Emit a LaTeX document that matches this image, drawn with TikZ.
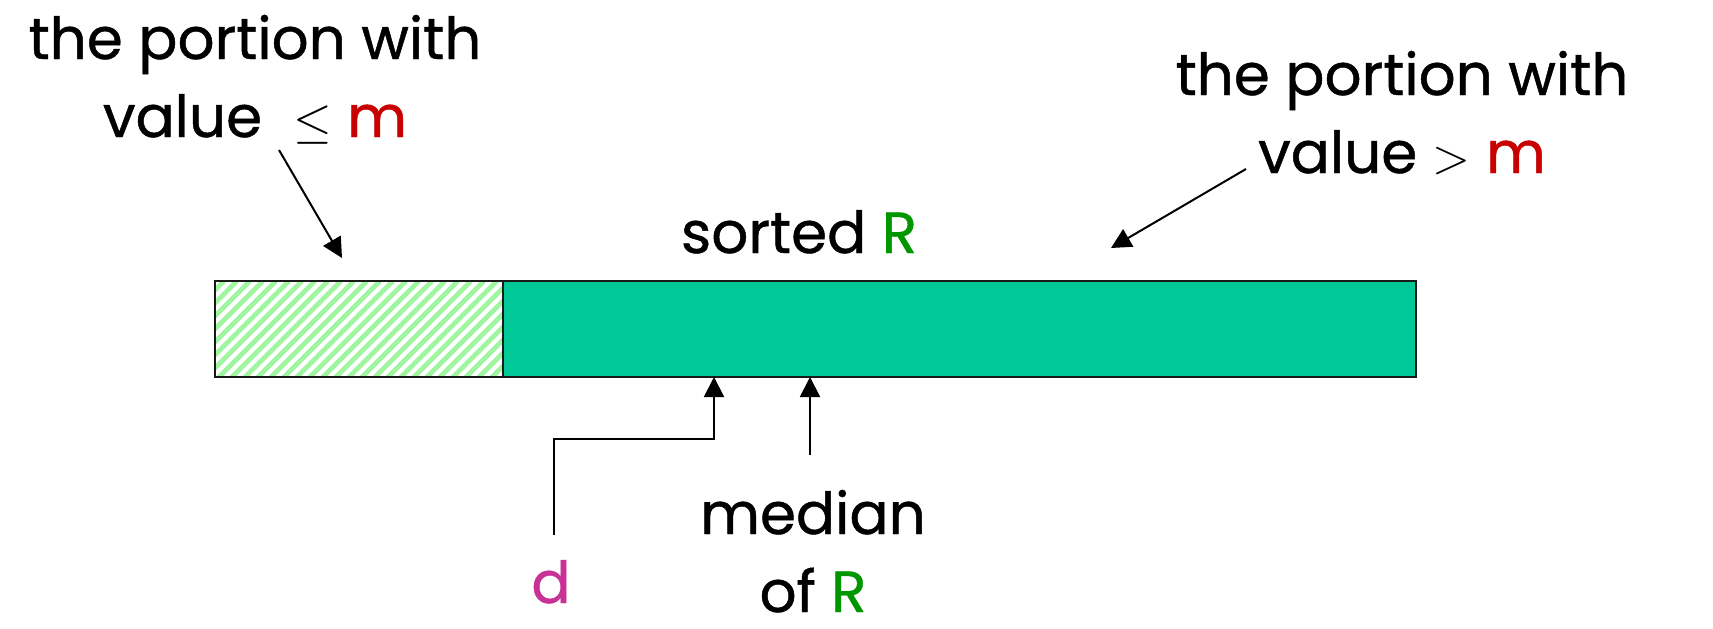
\documentclass[tikz,border=0pt]{standalone}
\usepackage{fontspec}
\setmainfont{Poppins}[FakeBold=0.8]
\usetikzlibrary{arrows.meta}
\definecolor{barfill}{RGB}{0,200,150}
\definecolor{hatchgreen}{RGB}{160,245,160}
\definecolor{mred}{RGB}{200,0,0}
\definecolor{rgreen}{RGB}{0,150,0}
\definecolor{dmag}{RGB}{200,50,150}
\tikzset{
  lbl/.style={font=\fontsize{29}{39}\selectfont, inner sep=0pt, anchor=base, align=center},
  pointer/.style={line width=1pt, -{Triangle[length=10pt,width=10pt]}},
  barframe/.style={line width=1.1pt, draw=black!90},
}
\newcommand{\mm}{\textcolor{mred}{m}}
\newcommand{\RR}{\textcolor{rgreen}{R}}
\begin{document}
\begin{tikzpicture}[x=0.5pt,y=-0.5pt]
  \useasboundingbox (0,0) rectangle (1713,628);

  % sorted array: left part hatched, right part solid
  \coordinate (bl) at (215,281);
  \coordinate (bm) at (503,377);
  \coordinate (bmt) at (503,281);
  \coordinate (br) at (1416,377);
  \begin{scope}
    \clip (bl) rectangle (bm);
    \foreach \i in {-10,...,25}
      \draw[hatchgreen, line width=2.4pt] (215+13*\i,381) -- (215+13*\i+100,281);
  \end{scope}
  \draw[barframe] (bl) rectangle (bm);
  \draw[barframe, fill=barfill] (bmt) rectangle (br);

  % labels (anchored on the baseline of their last line)
  \node[lbl] (low) at (255,137) {the portion with\\value\ \ $\leq$ \mm};
  \node[lbl] (high) at (1402,173) {the portion with\\value $>$ \mm};
  \node[lbl] (sorted) at (799,253) {sorted \RR};
  \node[lbl] (median) at (813,612) {median\\of \RR};
  \node[lbl, text=dmag] (dlab) at (551,603) {d};

  % arrows
  \coordinate (lowtail) at (279,150);
  \coordinate (lowhead) at (342,258);
  \coordinate (hightail) at (1246,169);
  \coordinate (highhead) at (1111,248);
  \coordinate (dtail) at (554,535);
  \coordinate (dhead) at (714,377);
  \coordinate (medtail) at (810,455);
  \coordinate (medhead) at (810,377);
  \draw[pointer] (lowtail) -- (lowhead);
  \draw[pointer] (hightail) -- (highhead);
  \draw[pointer] (dtail) |- (714,439) -- (dhead);
  \draw[pointer] (medtail) -- (medhead);
\end{tikzpicture}
\end{document}
